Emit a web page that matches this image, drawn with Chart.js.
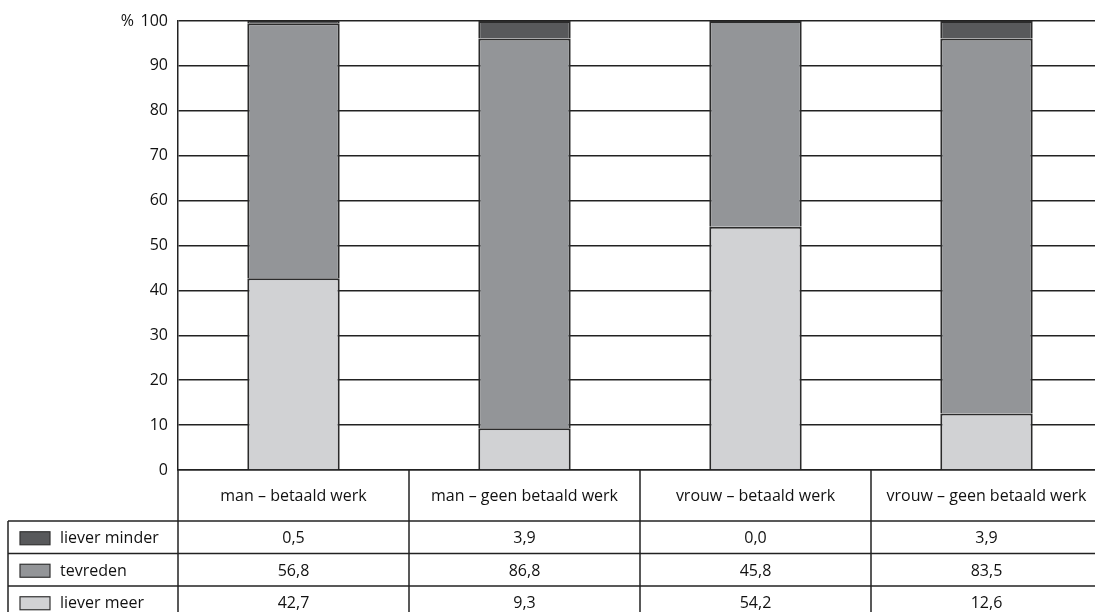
<!DOCTYPE html>
<html>
<head>
<meta charset="utf-8">
<script src="https://cdn.jsdelivr.net/npm/chart.js@4"></script>
<style>
  html, body { margin: 0; padding: 0; background: #fff; overflow: hidden; }
  #wrap { width: 1102px; height: 612px; }
</style>
</head>
<body>
<div id="wrap"><canvas id="c" width="1102" height="612"></canvas></div>
<script>
const categories = ["man – betaald werk", "man – geen betaald werk", "vrouw – betaald werk", "vrouw – geen betaald werk"];
const lieverMinder = [0.5, 3.9, 0.0, 3.9];
const tevreden = [56.8, 86.8, 45.8, 83.5];
const lieverMeer = [42.7, 9.3, 54.2, 12.6];
const seriesNames = ["liever minder", "tevreden", "liever meer"];
const yTicks = [0, 10, 20, 30, 40, 50, 60, 70, 80, 90, 100];

const FONT = '"Open Sans", "DejaVu Sans", sans-serif';
const TEXT = '#111';
const colors = { minder: '#58595b', tevreden: '#939598', meer: '#d1d2d4' };
const fmt = v => v.toFixed(1).replace('.', ',');

const tablePlugin = {
  id: 'dataTable',
  afterDraw(chart) {
    const ctx = chart.ctx;
    const ca = chart.chartArea;
    const xs = chart.scales.x;
    const ys = chart.scales.y;
    const n = chart.data.labels.length;
    const colW = (ca.right - ca.left) / n;
    const headerBottom = ca.bottom + 51;
    const rowH = 32.5;
    const legendLeft = 8;
    ctx.save();
    ctx.strokeStyle = '#222';
    ctx.lineWidth = 1.5;
    ctx.fillStyle = TEXT;
    ctx.font = '16px ' + FONT;
    ctx.textBaseline = 'middle';
    ctx.textAlign = 'right';
    ctx.fillText('%', 134, ys.getPixelForValue(100));
    ctx.textAlign = 'center';
    for (let i = 0; i <= n; i++) {
      const x = ca.left + i * colW;
      ctx.beginPath();
      ctx.moveTo(x, ca.bottom);
      ctx.lineTo(x, chart.height + 5);
      ctx.stroke();
    }
    chart.data.labels.forEach((lab, i) => {
      ctx.fillText(lab, xs.getPixelForValue(i), ca.bottom + 26);
    });
    const rows = [
      { name: seriesNames[0], data: lieverMinder, color: colors.minder },
      { name: seriesNames[1], data: tevreden, color: colors.tevreden },
      { name: seriesNames[2], data: lieverMeer, color: colors.meer }
    ];
    ctx.beginPath();
    ctx.moveTo(legendLeft, headerBottom);
    ctx.lineTo(legendLeft, chart.height + 5);
    ctx.stroke();
    rows.forEach((r, k) => {
      const top = headerBottom + k * rowH;
      ctx.beginPath();
      ctx.moveTo(legendLeft, top);
      ctx.lineTo(ca.right, top);
      ctx.stroke();
      const cy = top + rowH / 2 + 1.5;
      ctx.fillStyle = r.color;
      ctx.fillRect(20, cy - 7, 30, 13);
      ctx.lineWidth = 1.2;
      ctx.strokeStyle = '#333';
      ctx.strokeRect(20, cy - 7, 30, 13);
      ctx.strokeStyle = '#222';
      ctx.lineWidth = 1.5;
      ctx.fillStyle = TEXT;
      ctx.textAlign = 'left';
      ctx.fillText(r.name, 60, cy);
      ctx.textAlign = 'center';
      r.data.forEach((v, i) => {
        ctx.fillText(fmt(v), xs.getPixelForValue(i), cy);
      });
    });
    ctx.restore();
  }
};

const ds = (label, data, color) => ({
  label, data, backgroundColor: color, borderColor: '#2b2b2b', borderWidth: 2,
  borderSkipped: 'start', barPercentage: 0.40, categoryPercentage: 1.0
});

new Chart(document.getElementById('c'), {
  type: 'bar',
  data: {
    labels: categories,
    datasets: [
      ds(seriesNames[2], lieverMeer, colors.meer),
      ds(seriesNames[1], tevreden, colors.tevreden),
      ds(seriesNames[0], lieverMinder, colors.minder)
    ]
  },
  options: {
    responsive: false,
    animation: false,
    devicePixelRatio: 1,
    layout: { padding: { top: 21, left: 0, right: 0, bottom: 0 } },
    plugins: { legend: { display: false }, tooltip: { enabled: false } },
    scales: {
      x: {
        stacked: true,
        grid: { display: false },
        border: { display: true, color: '#222', width: 1.5 },
        ticks: { display: false },
        afterFit: s => { s.height = 142; }
      },
      y: {
        stacked: true,
        min: 0, max: 100,
        afterBuildTicks: s => { s.ticks = yTicks.map(v => ({ value: v })); },
        grid: { color: '#222', lineWidth: 1.5, drawTicks: false },
        border: { display: true, color: '#222', width: 1.5 },
        ticks: { color: TEXT, padding: 10, font: { family: FONT, size: 16 } },
        afterFit: s => { s.width = 178; }
      }
    }
  },
  plugins: [tablePlugin]
});
</script>
</body>
</html>
